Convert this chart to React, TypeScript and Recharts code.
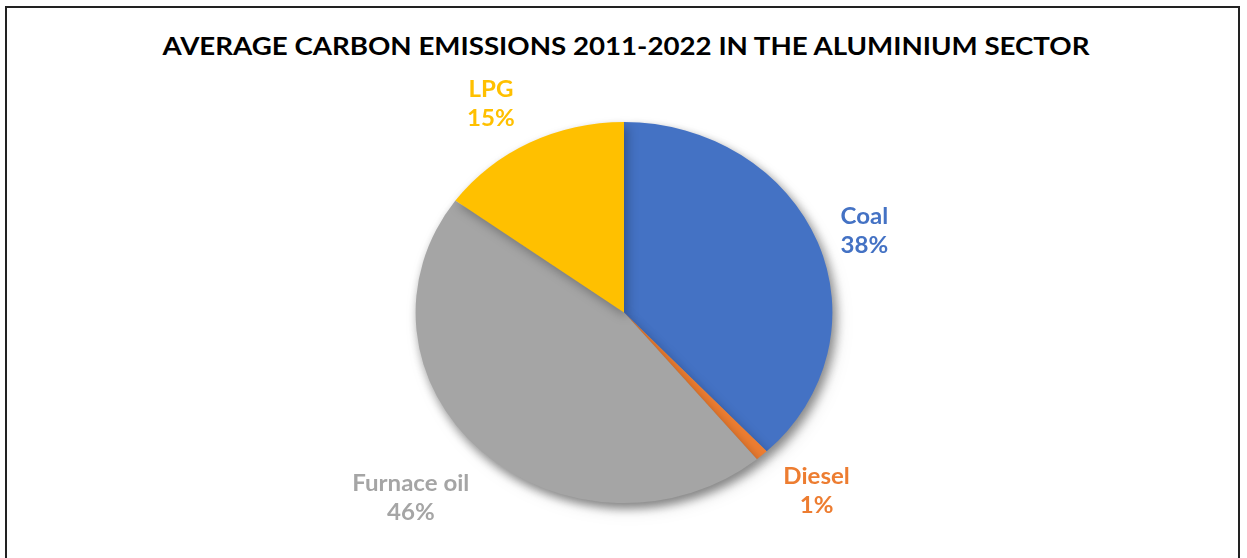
import { PieChart, Pie, Cell } from "recharts";

const fuels = ["Coal", "Diesel", "Furnace oil", "LPG"];
const shares = [38, 1, 46, 15];
const colors = ["#4472C4", "#ED7D31", "#A5A5A5", "#FFC000"];

const TITLE = "AVERAGE CARBON EMISSIONS 2011-2022 IN THE ALUMINIUM SECTOR";

const data = fuels.map((name, i) => ({ name, value: shares[i] }));

// the source image is stretched horizontally, so draw narrower and scale x
const SX = 1.094;
const W = 1247;
const H = 558;
const font = "Lato, 'Open Sans', sans-serif";

const RAD = Math.PI / 180;

// rough imitation of Excel's "best fit" outside labels
function renderLabel(props: any) {
  const { cx, cy, midAngle, outerRadius, name, percent, index } = props;
  const a = midAngle - 4.5 * Math.sin(2 * midAngle * RAD) * Math.abs(Math.sin(midAngle * RAD));
  const c = Math.cos(-a * RAD);
  const s = Math.sin(-a * RAD);
  const hw = name.length * 5.2;
  const hh = 36;
  const d = outerRadius + 12 + Math.abs(c) * hw + Math.abs(s) * hh;
  const x = cx + d * c;
  const y = cy + d * s;
  return (
    <text
      x={x}
      y={y}
      textAnchor="middle"
      fill={colors[index]}
      fontFamily={font}
      fontWeight={700}
      fontSize={22}
    >
      <tspan x={x} y={y - 6.5}>{name}</tspan>
      <tspan x={x} y={y + 22.5}>{`${Math.round(percent * 100)}%`}</tspan>
    </text>
  );
}

export default function App() {
  return (
    <div style={{ position: "fixed", left: 0, top: 0, width: W, height: H, background: "#fff", overflow: "hidden" }}>
      <style>{`.shadowPie { filter: drop-shadow(3px 5px 5px rgba(0,0,0,0.28)); }`}</style>
      <div
        style={{
          position: "absolute",
          left: 5,
          top: 6,
          width: 1235,
          height: 600,
          border: "2px solid #222",
          boxSizing: "border-box",
        }}
      />
      <svg width={W} height={70} style={{ position: "absolute", left: 0, top: 0 }}>
        <text
          x={626}
          y={55}
          textAnchor="middle"
          fontFamily={font}
          fontWeight={700}
          fontSize={25}
          fill="#000"
          textLength={927}
          lengthAdjust="spacingAndGlyphs"
        >
          {TITLE}
        </text>
      </svg>
      <div
        style={{
          position: "absolute",
          left: 0,
          top: 0,
          width: W / SX,
          height: H,
          transform: `scaleX(${SX})`,
          transformOrigin: "0 0",
        }}
      >
        <PieChart width={W / SX} height={H} margin={{ top: 0, right: 0, bottom: 0, left: 0 }}>
          <Pie
            data={data}
            dataKey="value"
            nameKey="name"
            cx={624 / SX}
            cy={312.5}
            outerRadius={190.5}
            startAngle={90}
            endAngle={-270}
            stroke="none"
            className="shadowPie"
            isAnimationActive={false}
          >
            {data.map((d, i) => (
              <Cell key={d.name} fill={colors[i]} />
            ))}
          </Pie>
          <Pie
            data={data}
            dataKey="value"
            nameKey="name"
            cx={624 / SX}
            cy={312.5}
            outerRadius={190.5}
            startAngle={90}
            endAngle={-270}
            fill="none"
            stroke="none"
            label={renderLabel}
            labelLine={false}
            isAnimationActive={false}
          />
        </PieChart>
      </div>
    </div>
  );
}
